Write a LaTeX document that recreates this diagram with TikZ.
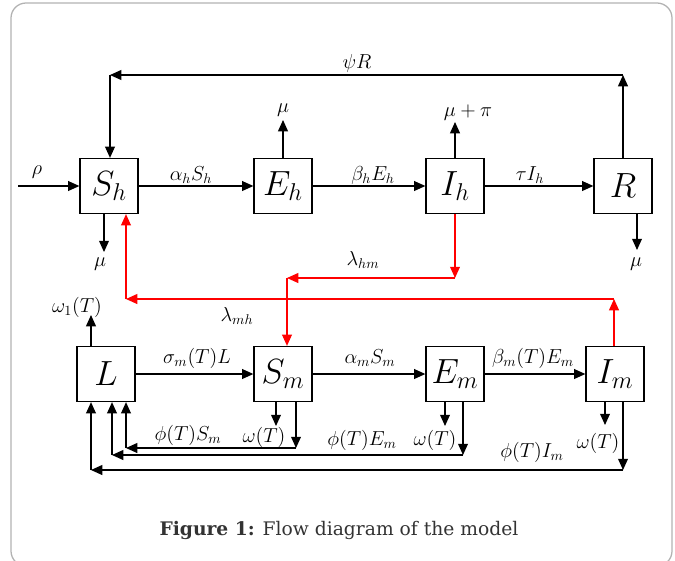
\documentclass[tikz,border=0pt]{standalone}
\usepackage{fontspec}
\newfontfamily\capfont{DejaVu Serif}
\usetikzlibrary{arrows.meta}

\begin{document}
\begin{tikzpicture}[x=0.025cm,y=-0.025cm,
    box/.style={draw,line width=0.9pt,minimum width=1.45cm,minimum height=1.375cm,inner sep=0pt,font=\fontsize{27}{29}\selectfont},
    flow/.style={line width=0.85pt,-{Triangle[length=8pt,width=7pt]}},
    redflow/.style={flow,red},
    lbl/.style={font=\fontsize{14.5}{16}\selectfont,inner sep=0pt}]
  \useasboundingbox (0,0) rectangle (675,560);
  \draw[gray!60,line width=0.9pt,rounded corners=0.375cm] (11,3) rectangle (672,566);

  % human compartments
  \node[box] (Sh) at (109,186) {$S_h$};
  \node[box] (Eh) at (283,186) {$E_h$};
  \node[box] (Ih) at (455,186) {$I_h$};
  \node[box] (R)  at (623,186) {$R$};
  % mosquito compartments
  \node[box] (L)  at (106,374) {$L$};
  \node[box] (Sm) at (283,374) {$S_m$};
  \node[box] (Em) at (455,374) {$E_m$};
  \node[box] (Im) at (615,374) {$I_m$};

  % free ends and corners
  \coordinate (rho) at (18,186);
  \coordinate (topR) at (623,75);
  \coordinate (topL) at (110,75);
  \coordinate (dSh) at (104,252);
  \coordinate (dEh) at (283,120);
  \coordinate (dIh) at (455,122);
  \coordinate (dR) at (637,250);
  \coordinate (dL) at (91,315);
  \coordinate (hmA) at (455,278);
  \coordinate (hmB) at (287,278);
  \coordinate (mhA) at (614,299);
  \coordinate (mhB) at (126,299);
  \coordinate (wSm) at (276,426);
  \coordinate (wEm) at (445,426);
  \coordinate (wIm) at (605,425);
  \coordinate (fSmA) at (296,448);
  \coordinate (fSmB) at (126,448);
  \coordinate (fEmA) at (463,455);
  \coordinate (fEmB) at (112,455);
  \coordinate (fImA) at (623,470);
  \coordinate (fImB) at (91,470);

  % human flows
  \draw[flow] (rho) -- (Sh.west);
  \draw[flow] (Sh) -- (Eh);
  \draw[flow] (Eh) -- (Ih);
  \draw[flow] (Ih) -- (R);
  \draw[flow] (R.north) -- (topR);
  \draw[flow] (topR) -- (topL);
  \draw[flow] (topL) -- (Sh.north -| topL);
  \draw[flow] (Sh.south -| dSh) -- (dSh);
  \draw[flow] (Eh.north) -- (dEh);
  \draw[flow] (Ih.north) -- (dIh);
  \draw[flow] (R.south -| dR) -- (dR);

  % infection links
  \draw[redflow] (Ih.south) -- (hmA);
  \draw[redflow] (hmA) -- (hmB);
  \draw[redflow] (hmB) -- (Sm.north -| hmB);
  \draw[redflow] (Im.north -| mhA) -- (mhA);
  \draw[redflow] (mhA) -- (mhB);
  \draw[redflow] (mhB) -- (Sh.south -| mhB);

  % mosquito flows
  \draw[flow] (L.north -| dL) -- (dL);
  \draw[flow] (L) -- (Sm);
  \draw[flow] (Sm) -- (Em);
  \draw[flow] (Em) -- (Im);
  \draw[flow] (Sm.south -| wSm) -- (wSm);
  \draw[flow] (Em.south -| wEm) -- (wEm);
  \draw[flow] (Im.south -| wIm) -- (wIm);
  \draw[flow] (Sm.south -| fSmA) -- (fSmA);
  \draw[flow] (fSmA) -- (fSmB);
  \draw[flow] (fSmB) -- (L.south -| fSmB);
  \draw[flow] (Em.south -| fEmA) -- (fEmA);
  \draw[flow] (fEmA) -- (fEmB);
  \draw[flow] (fEmB) -- (L.south -| fEmB);
  \draw[flow] (Im.south -| fImA) -- (fImA);
  \draw[flow] (fImA) -- (fImB);
  \draw[flow] (fImB) -- (L.south -| fImB);

  % rate labels
  \node[lbl] (lRho) at (37,172) {$\rho$};
  \node[lbl] (lPsi) at (357,63) {$\psi R$};
  \node[lbl] (lAh) at (191,175) {$\alpha_h S_h$};
  \node[lbl] (lBh) at (373,175) {$\beta_h E_h$};
  \node[lbl] (lTau) at (530,175) {$\tau I_h$};
  \node[lbl] (lMuSh) at (100,264) {$\mu$};
  \node[lbl] (lMuEh) at (283,110) {$\mu$};
  \node[lbl] (lMuIh) at (468,113) {$\mu+\pi$};
  \node[lbl] (lMuR) at (636,264) {$\mu$};
  \node[lbl] (lHm) at (363,260) {$\lambda_{hm}$};
  \node[lbl] (lMh) at (237,316) {$\lambda_{mh}$};
  \node[lbl] (lW1) at (77,307) {$\omega_1(T)$};
  \node[lbl] (lSig) at (197,358) {$\sigma_m(T)L$};
  \node[lbl] (lAm) at (370,358) {$\alpha_m S_m$};
  \node[lbl] (lBm) at (533,358) {$\beta_m(T)E_m$};
  \node[lbl] (lWSm) at (264,437) {$\omega(T)$};
  \node[lbl] (lWEm) at (435,440) {$\omega(T)$};
  \node[lbl] (lWIm) at (598,443) {$\omega(T)$};
  \node[lbl] (lFSm) at (188,435) {$\phi(T)S_m$};
  \node[lbl] (lFEm) at (362,440) {$\phi(T)E_m$};
  \node[lbl] (lFIm) at (532,452) {$\phi(T)I_m$};

  \node[font=\capfont\fontsize{13.3}{16}\selectfont,text=black!80] (cap) at (339,530) {\textbf{Figure 1:} Flow diagram of the model};
\end{tikzpicture}
\end{document}
